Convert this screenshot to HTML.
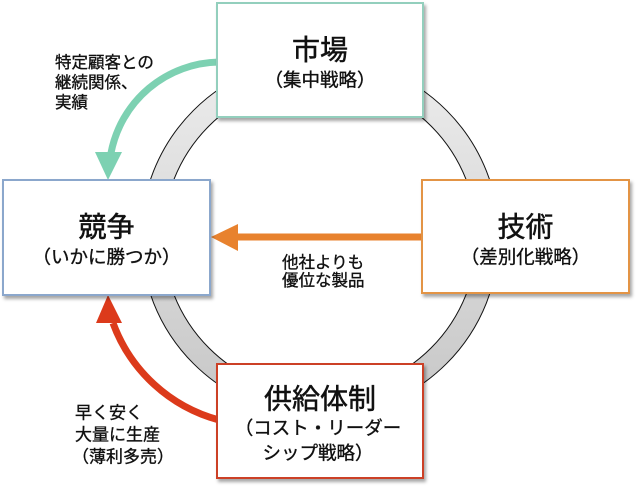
<!DOCTYPE html>
<html><head><meta charset="utf-8">
<style>
html,body{margin:0;padding:0;background:#fff;}
svg{display:block;}
text{font-family:"Liberation Sans","Noto Sans CJK JP",sans-serif;fill:#111;stroke:#111;stroke-width:0.35px;}
text.t{stroke-width:0.5px;}
</style></head>
<body>
<svg width="637" height="488" viewBox="0 0 637 488" xmlns="http://www.w3.org/2000/svg">
<defs>
<linearGradient id="rg" x1="0" y1="0" x2="0" y2="1">
<stop offset="0" stop-color="#ededed"/>
<stop offset="1" stop-color="#c6c6c6"/>
</linearGradient>
<filter id="sh" x="-10%" y="-10%" width="130%" height="130%">
<feDropShadow dx="2" dy="3" stdDeviation="1.5" flood-color="#000" flood-opacity="0.35"/>
</filter>
</defs>
<rect width="637" height="488" fill="#fff"/>
<!-- ring -->
<circle cx="320" cy="237" r="179" fill="url(#rg)" stroke="#111" stroke-width="1"/>
<circle cx="320" cy="237" r="157" fill="#fff" stroke="#111" stroke-width="1"/>

<!-- teal arrow -->
<path d="M219,62 A112,112 0 0 0 111,153" fill="none" stroke="#7dd1b2" stroke-width="7"/>
<polygon points="95,152 122,152 108,180" fill="#7dd1b2"/>
<!-- orange arrow -->
<line x1="236" y1="237" x2="424" y2="237" stroke="#e8822e" stroke-width="7"/>
<polygon points="238,224 238,251 211,237" fill="#e8822e"/>
<!-- red arrow -->
<path d="M219,420 A156,156 0 0 1 113,323" fill="none" stroke="#dc3a1b" stroke-width="7"/>
<polygon points="96,323 122,323 108,295" fill="#dc3a1b"/>

<!-- boxes -->
<rect x="217" y="3" width="206" height="114" fill="#fff" stroke="#93cfbd" stroke-width="2" filter="url(#sh)"/>
<rect x="3" y="180" width="207" height="115" fill="#fff" stroke="#8ba7cc" stroke-width="2" filter="url(#sh)"/>
<rect x="422" y="180" width="207" height="113" fill="#fff" stroke="#e39445" stroke-width="2" filter="url(#sh)"/>
<rect x="217" y="364" width="206" height="114" fill="#fff" stroke="#cc3f25" stroke-width="2" filter="url(#sh)"/>

<!-- box texts -->
<text class="t" x="320" y="50" font-size="28" text-anchor="middle" dominant-baseline="central">市場</text>
<text x="320" y="80" font-size="18.5" text-anchor="middle" dominant-baseline="central">（集中戦略）</text>

<text class="t" x="106.5" y="227" font-size="28" text-anchor="middle" dominant-baseline="central">競争</text>
<text x="106.5" y="257" font-size="18.5" text-anchor="middle" dominant-baseline="central">（いかに勝つか）</text>

<text class="t" x="525.5" y="227" font-size="28" text-anchor="middle" dominant-baseline="central">技術</text>
<text x="525.5" y="257" font-size="18.5" text-anchor="middle" dominant-baseline="central">（差別化戦略）</text>

<text class="t" x="320" y="399" font-size="28" text-anchor="middle" dominant-baseline="central">供給体制</text>
<text x="318" y="428" font-size="18.5" text-anchor="middle" dominant-baseline="central">（コスト・リーダー</text>
<text x="318" y="453" font-size="18.5" text-anchor="middle" dominant-baseline="central">シップ戦略）</text>

<!-- annotations -->
<text x="55" y="63" font-size="16.5" dominant-baseline="central">特定顧客との</text>
<text x="55" y="83" font-size="16.5" dominant-baseline="central">継続関係、</text>
<text x="55" y="103" font-size="16.5" dominant-baseline="central">実績</text>

<text x="282" y="263" font-size="16.5" dominant-baseline="central">他社よりも</text>
<text x="282" y="281" font-size="16.5" dominant-baseline="central">優位な製品</text>

<text x="75" y="413" font-size="17" dominant-baseline="central">早く安く</text>
<text x="75" y="435" font-size="17" dominant-baseline="central">大量に生産</text>
<text x="72" y="457" font-size="17" dominant-baseline="central">（薄利多売）</text>
</svg>
</body></html>
